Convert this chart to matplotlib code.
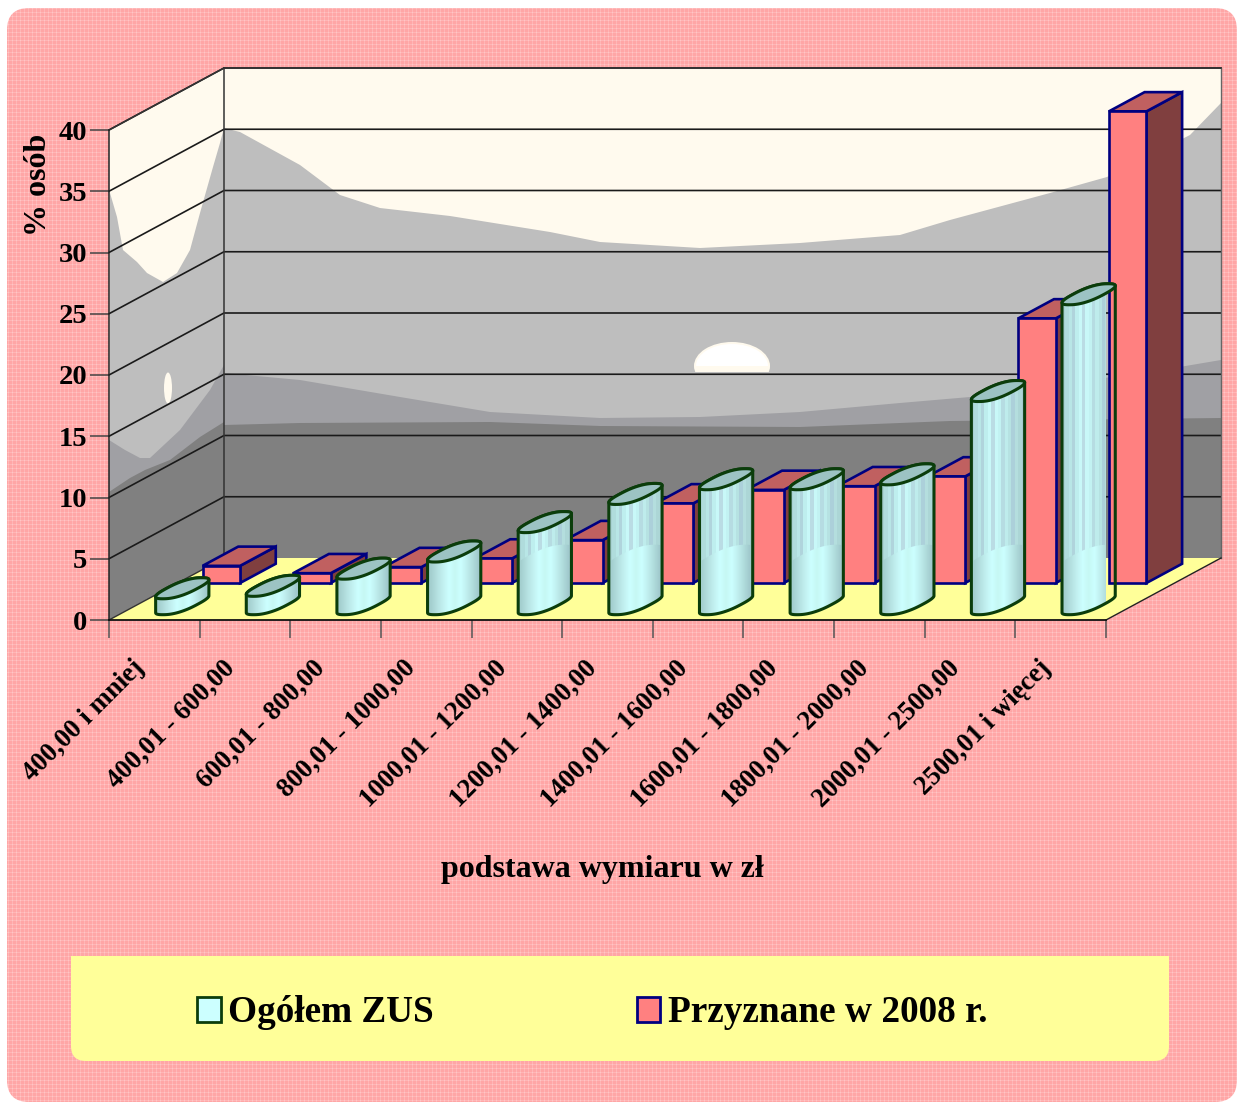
import numpy as np
import matplotlib
matplotlib.use('Agg')
import matplotlib.pyplot as plt
from matplotlib.patches import Polygon, PathPatch, FancyBboxPatch, Patch, Ellipse, Rectangle
from matplotlib.path import Path
from matplotlib.transforms import ScaledTranslation

W, H = 1237, 1102

categories = ['400,00 i mniej', '400,01 - 600,00', '600,01 - 800,00', '800,01 - 1000,00',
              '1000,01 - 1200,00', '1200,01 - 1400,00', '1400,01 - 1600,00', '1600,01 - 1800,00',
              '1800,01 - 2000,00', '2000,01 - 2500,00', '2500,01 i więcej']
ogolem_zus = [1.3, 1.5, 2.9, 4.3, 6.7, 9.0, 10.2, 10.2, 10.6, 17.4, 25.3]
przyznane = [1.4, 0.8, 1.3, 2.0, 3.5, 6.5, 7.6, 7.9, 8.7, 21.6, 38.5]
y_ticks = [0, 5, 10, 15, 20, 25, 30, 35, 40]

# backdrop picture on the walls, pixel outlines
back_sky = [(224, 128), (240, 132), (300, 165), (340, 195), (380, 208), (450, 216), (550, 232), (600, 242),
            (650, 245), (700, 248), (800, 243), (900, 235), (950, 220), (1050, 193), (1107, 177), (1190, 135), (1221, 103)]
back_mid = [(224, 373), (300, 380), (400, 397), (490, 412), (600, 418), (700, 417), (800, 412), (900, 403),
            (970, 397), (1050, 385), (1150, 372), (1221, 360)]
back_dark = [(224, 425), (300, 423), (490, 422), (600, 426), (800, 427), (950, 421), (1221, 418)]
left_sky = [(110, 193), (117, 217), (123, 250), (137, 262), (147, 273), (163, 282), (177, 273), (190, 250),
            (200, 213), (213, 167), (220, 143), (224, 128)]
left_mid = [(109, 440), (125, 450), (140, 458), (150, 458), (180, 430), (195, 410), (210, 390), (224, 365)]
left_dark = [(109, 492), (130, 478), (145, 470), (170, 460), (200, 437), (224, 422)]
cyl_bright = ['#A4CFCF', '#B4E0E0', '#C2F0F0', '#CCFFFF', '#C6F8F4', '#CCFFFF', '#C0EEEE', '#B0DCDC', '#A0C8CC']
cyl_muted = ['#A8D2D2', '#B0DCDC', '#B8E6E6', '#B0D4DC', '#BEEEEE', '#C8F8F8', '#BADCE4', '#C8F8F8', '#C2F2F2', '#B6DCE2',
             '#BEECEC', '#B6E2E2', '#ACD0DA', '#B4DEDE', '#ACD6D6', '#A4C8D0']

FONT = 'Liberation Serif'
NAVY = '#000080'
GREEN = '#0B3D0B'

# chart geometry in pixels
X0, X1, Y0, Y40 = 109, 1106, 620, 130
DEPTH_X, DEPTH_Y = 115, 62
PX_X = (X1 - X0) / 11.0
PX_Y = (Y0 - Y40) / 40.0


def dx(d):
    return d * DEPTH_X / PX_X


def dy(d):
    return d * DEPTH_Y / PX_Y


fig = plt.figure(figsize=(W / 100, H / 100), dpi=100, facecolor='white')

# background with the gingham pattern
bg = fig.add_axes([0, 0, 1, 1], zorder=0)
bg.set_xlim(0, W)
bg.set_ylim(H, 0)
bg.axis('off')
yy, xx = np.mgrid[0:H, 0:W]
pattern = np.zeros((H, W, 3))
pattern[..., 0] = 1.0
pattern[..., 1] = 166 / 255
pattern[..., 2] = 166 / 255
lines = (xx % 4 == 0).astype(float) + (yy % 4 == 0).astype(float)
pattern[..., 1] += lines * 16 / 255
pattern[..., 2] += lines * 16 / 255
im = bg.imshow(pattern, extent=(0, W, H, 0), interpolation='nearest', aspect='auto')
rounded = FancyBboxPatch((7, 8), W - 7, H - 8, boxstyle='round,pad=0,rounding_size=22', fc='none', ec='none')
bg.add_patch(rounded)
im.set_clip_path(rounded)

# legend box, round only at the bottom
bg.add_patch(FancyBboxPatch((71, 956), 1098, 105, boxstyle='round,pad=0,rounding_size=15', fc='#FFFF99', ec='none'))
bg.add_patch(Rectangle((71, 956), 1098, 40, fc='#FFFF99', ec='none'))

# walls
bx0, bx1 = X0 + DEPTH_X, X1 + DEPTH_X
by0, by40 = Y0 - DEPTH_Y, Y40 - DEPTH_Y


def layer(outline, color, clip):
    pts = list(outline) + [(outline[-1][0], by0 + 70), (outline[0][0], by0 + 70)]
    p = Polygon(pts, closed=True, fc=color, ec='none')
    bg.add_patch(p)
    p.set_clip_path(clip)


back_wall = Polygon([(bx0, by40), (bx1, by40), (bx1, by0), (bx0, by0)], closed=True, fc='#FFFAEE', ec='none')
left_wall = Polygon([(X0, Y40), (bx0, by40), (bx0, by0), (X0, Y0)], closed=True, fc='#FFFAEE', ec='none')
bg.add_patch(back_wall)
bg.add_patch(left_wall)
for outline, color in [(back_sky, '#BEBEBE'), (back_mid, '#A0A0A4'), (back_dark, '#808080')]:
    layer(outline, color, back_wall)
for outline, color in [(left_sky, '#BEBEBE'), (left_mid, '#A0A0A4'), (left_dark, '#808080')]:
    layer(outline, color, left_wall)
sun = Ellipse((732, 366), 76, 48, fc='#FFFAEE', ec='none')
bg.add_patch(sun)
sun.set_clip_path(Rectangle((690, 330), 90, 42, transform=bg.transData))
bg.add_patch(Ellipse((732, 366), 72, 44, fc='white', ec='none'))
bg.patches[-1].set_clip_path(Rectangle((690, 330), 90, 36, transform=bg.transData))
bg.add_patch(Ellipse((168, 388), 8, 31, fc='#FFFAEE', ec='none'))

# chart axes, value and category scales
ax = fig.add_axes([X0 / W, (H - Y0) / H, (X1 - X0) / W, (Y0 - Y40) / H], zorder=1)
ax.patch.set_visible(False)

ax.add_patch(Polygon([(0, 0), (11, 0), (11 + dx(1), dy(1)), (dx(1), dy(1))], closed=True, fc='#FFFF99', ec='none', clip_on=False))

# grid on both walls
for v in y_ticks[1:]:
    ax.plot([0, dx(1), 11 + dx(1)], [v, v + dy(1), v + dy(1)], color='#1A1A1A', lw=1.2, clip_on=False, zorder=1)
ax.plot([dx(1), dx(1)], [dy(1), 40 + dy(1)], color='#333333', lw=1.1, clip_on=False, zorder=1)
ax.plot([11 + dx(1), 11 + dx(1)], [dy(1), 40 + dy(1)], color='#666666', lw=1.0, clip_on=False, zorder=1)
ax.plot([11, 11 + dx(1)], [0, dy(1)], color='#222222', lw=1.0, clip_on=False, zorder=1)
ax.plot([dx(1), 11 + dx(1)], [40 + dy(1), 40 + dy(1)], color='#333333', lw=1.1, clip_on=False, zorder=1)
ax.plot([0, dx(1)], [40, 40 + dy(1)], color='#333333', lw=1.1, clip_on=False, zorder=1)
ax.plot([0, dx(1)], [0, dy(1)], color='#333333', lw=1.0, clip_on=False, zorder=1)

# bars on the back row
d0, d1 = 0.597, 0.907
bar_left, bar_w = 0.275, 0.414
for i, v in enumerate(przyznane):
    x = i + bar_left
    front = [(x + dx(d0), dy(d0)), (x + bar_w + dx(d0), dy(d0)), (x + bar_w + dx(d0), v + dy(d0)), (x + dx(d0), v + dy(d0))]
    top = [(x + dx(d0), v + dy(d0)), (x + bar_w + dx(d0), v + dy(d0)), (x + bar_w + dx(d1), v + dy(d1)), (x + dx(d1), v + dy(d1))]
    side = [(x + bar_w + dx(d0), dy(d0)), (x + bar_w + dx(d1), dy(d1)), (x + bar_w + dx(d1), v + dy(d1)), (x + bar_w + dx(d0), v + dy(d0))]
    for pts, color in [(side, '#803F3F'), (top, '#C06060'), (front, '#FF8080')]:
        ax.add_patch(Polygon(pts, closed=True, fc=color, ec=NAVY, lw=1.9, joinstyle='miter', clip_on=False, zorder=2 + i * 0.01))

# cylinders on the front row, disc outline a bit squarer than an ellipse
rgb_bright = np.array([[matplotlib.colors.to_rgb(c) for c in cyl_bright]])
rgb_muted = np.array([[matplotlib.colors.to_rgb(c) for c in cyl_muted]])
d_cyl = 0.255
ux, vx, vy = 15.5 / PX_X, 19.5 / PX_X, 10.5 / PX_Y
bright_h = 4.0
t = np.linspace(0, 2 * np.pi, 160, endpoint=False)
c, s = np.cos(t), np.sin(t)
c = np.sign(c) * np.abs(c) ** 0.8
s = np.sign(s) * np.abs(s) ** 0.8
disc_x = ux * c + vx * s
disc_y = vy * s
# start the outline at the right end, go over the top to the left end
start = np.argmax(disc_x)
disc_x = np.roll(disc_x, -start)
disc_y = np.roll(disc_y, -start)
left_end = np.argmin(disc_x)
half_w = disc_x.max()


def silhouette(cx, base, v):
    upper = np.column_stack([cx + disc_x[:left_end + 1], base + v + disc_y[:left_end + 1]])
    lower = np.column_stack([cx + disc_x[left_end:], base + disc_y[left_end:]])
    return Path(np.vstack([upper, lower, upper[:1]]), closed=True)


for i, v in enumerate(ogolem_zus):
    z = 5 + i * 0.01
    cx = i + 0.485 + dx(d_cyl)
    base = dy(d_cyl)
    ext = (cx - half_w, cx + half_w, base - vy, base + v + vy)
    body = PathPatch(silhouette(cx, base, v), fc='none', ec=GREEN, lw=2.2, clip_on=False, zorder=z)
    ax.add_patch(body)
    muted = ax.imshow(rgb_muted, extent=ext, aspect='auto', interpolation='nearest', zorder=z - 0.002)
    muted.set_clip_path(body)
    lit = PathPatch(silhouette(cx, base, min(v, bright_h)), fc='none', ec='none', clip_on=False)
    ax.add_patch(lit)
    bright = ax.imshow(rgb_bright, extent=ext, aspect='auto', interpolation='bilinear', zorder=z - 0.001)
    bright.set_clip_path(lit)
    cap = np.column_stack([cx + disc_x, base + v + disc_y])
    ax.add_patch(Polygon(cap, closed=True, fc='#9CC3C3', ec=GREEN, lw=2.2, clip_on=False, zorder=z + 0.001))

ax.set_xlim(0, 11)
ax.set_ylim(0, 40)

# axes, ticks and labels
for sp in ['top', 'right']:
    ax.spines[sp].set_visible(False)
ax.spines['left'].set_color('#222222')
ax.spines['bottom'].set_color('#111111')
ax.spines['left'].set_linewidth(1.1)
ax.spines['bottom'].set_linewidth(1.3)
ax.set_yticks(y_ticks)
ax.set_yticklabels([str(v) for v in y_ticks], fontfamily=FONT, fontweight='bold', fontsize=20.5)
ax.tick_params(axis='y', length=13.5, width=1.1, color='#444444', pad=2)
ax.set_xticks(range(12))
ax.set_xticklabels([])
ax.tick_params(axis='x', which='major', length=13, width=1.1, color='#555555')
ax.set_xticks(np.arange(11) + 0.5, minor=True)
ax.set_xticklabels(categories, minor=True, rotation=45, ha='right', rotation_mode='anchor', fontfamily=FONT,
                   fontweight='bold', fontsize=19.3)
ax.tick_params(axis='x', which='minor', length=0, pad=25.5)
shift = ScaledTranslation(-23 / 100, 0, fig.dpi_scale_trans)
for lab in ax.get_xticklabels(minor=True):
    lab.set_transform(lab.get_transform() + shift)

ax.set_xlabel('podstawa wymiaru w zł', fontfamily=FONT, fontweight='bold', fontsize=23)
ax.xaxis.set_label_coords((602 - X0) / (X1 - X0), (Y0 - 869) / (Y0 - Y40), transform=ax.transAxes)
ax.xaxis.label.set_verticalalignment('center')
ax.set_ylabel('% osób', fontfamily=FONT, fontweight='bold', fontsize=23)
ax.yaxis.set_label_coords((39 - X0) / (X1 - X0), (Y0 - 185) / (Y0 - Y40), transform=ax.transAxes)
ax.yaxis.label.set_verticalalignment('center')

handles = [Patch(fc='#CCFFFF', ec=GREEN, lw=2, label='Ogółem ZUS'), Patch(fc='#FF8080', ec=NAVY, lw=2, label='Przyznane w 2008 r.')]
leg = fig.legend(handles=handles, ncol=2, frameon=False, loc='center', bbox_to_anchor=(592 / W, (H - 1013) / H),
                 prop={'family': FONT, 'weight': 'bold', 'size': 26.8}, handlelength=0.64, handleheight=0.64,
                 handletextpad=0.2, columnspacing=5.45, borderpad=0, borderaxespad=0)
leg.set_zorder(3)

fig.savefig('out.png', dpi=100)
